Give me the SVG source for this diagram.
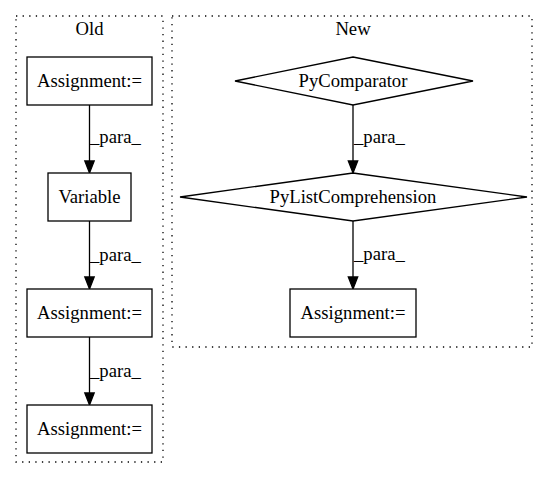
<svg xmlns="http://www.w3.org/2000/svg" width="549" height="480" viewBox="0 0 549 480">
<style>
text{font-family:"Liberation Serif","Times New Roman",serif;font-size:18.67px;fill:#000}
.c{text-anchor:middle}
.cl{fill:none;stroke:#000;stroke-width:1.3;stroke-dasharray:1.3,5.3}
.n{fill:#fff;stroke:#000;stroke-width:1.3}
.e{fill:none;stroke:#000;stroke-width:1.3}
.h{fill:#000;stroke:#000;stroke-width:1.3}
</style>
<rect width="549" height="480" fill="#fff"/>
<g id="cluster_old">
<rect class="cl" x="16" y="16" width="147" height="446"/>
<text class="c" x="89.5" y="35">Old</text>
</g>
<g id="cluster_new">
<rect class="cl" x="172" y="16" width="360" height="331"/>
<text class="c" x="353" y="35">New</text>
</g>
<g id="connectors">
<path class="e" d="M89.5,105V161"/><polygon class="h" points="84.8,161 94.2,161 89.5,173"/>
<text x="90" y="143">_para_</text>
<path class="e" d="M89.5,221V277"/><polygon class="h" points="84.8,277 94.2,277 89.5,289"/>
<text x="90" y="261">_para_</text>
<path class="e" d="M89.5,337V393"/><polygon class="h" points="84.8,393 94.2,393 89.5,405"/>
<text x="90" y="377">_para_</text>
<path class="e" d="M353,105V161"/><polygon class="h" points="348.3,161 357.7,161 353,173"/>
<text x="354" y="143">_para_</text>
<path class="e" d="M353,221V277"/><polygon class="h" points="348.3,277 357.7,277 353,289"/>
<text x="354" y="260">_para_</text>
</g>
<g id="old_assign1">
<rect class="n" x="27" y="57" width="125" height="48"/>
<text class="c" x="89.5" y="87">Assignment:=</text>
</g>
<g id="old_variable">
<rect class="n" x="48" y="173" width="83" height="48"/>
<text class="c" x="89.5" y="203">Variable</text>
</g>
<g id="old_assign2">
<rect class="n" x="27" y="289" width="125" height="48"/>
<text class="c" x="89.5" y="319">Assignment:=</text>
</g>
<g id="old_assign3">
<rect class="n" x="27" y="405" width="125" height="48"/>
<text class="c" x="89.5" y="435">Assignment:=</text>
</g>
<g id="new_pycomparator">
<polygon class="n" points="353,57 473,81 353,105 235,81"/>
<text class="c" x="353" y="87">PyComparator</text>
</g>
<g id="new_pylistcomp">
<polygon class="n" points="353,173 527,197 353,221 180,197"/>
<text class="c" x="353" y="203">PyListComprehension</text>
</g>
<g id="new_assign">
<rect class="n" x="290" y="289" width="126" height="48"/>
<text class="c" x="353" y="319">Assignment:=</text>
</g>
</svg>
